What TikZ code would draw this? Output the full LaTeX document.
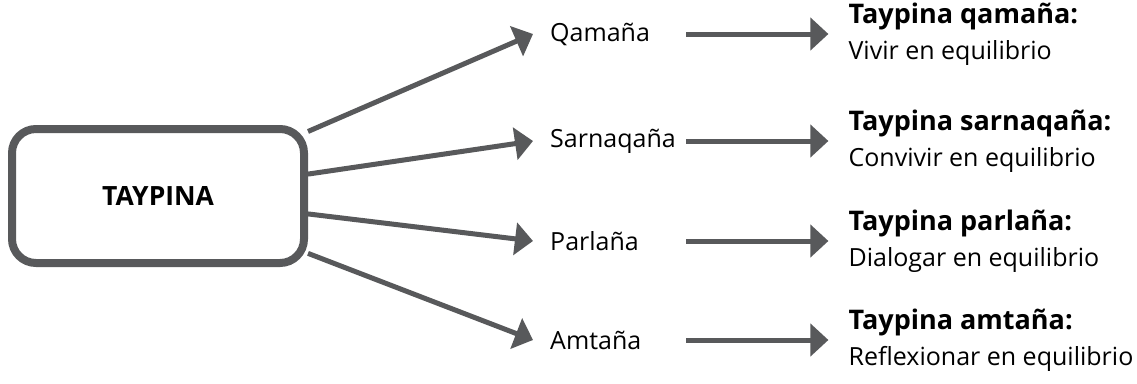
\documentclass[tikz,border=0pt]{standalone}
\usepackage{fontspec}
\setmainfont{Open Sans}
\usetikzlibrary{arrows.meta,positioning}
\definecolor{linegray}{RGB}{88,89,91}
\newcommand{\headline}[1]{{\fontsize{27}{36}\selectfont\bfseries #1}}

\begin{document}
\begin{tikzpicture}[x=1pt,y=-1pt,node distance=142pt,
  main node/.style={draw=linegray,line width=8pt,rounded corners=24pt,minimum width=292pt,minimum height=134pt,font=\fontsize{26.5}{30}\selectfont\bfseries},
  word node/.style={anchor=west,inner xsep=17pt,inner ysep=0pt,text width=119pt,font=\fontsize{25}{30}\selectfont},
  text node/.style={inner xsep=20pt,inner ysep=0pt,align=left,font=\fontsize{25}{36}\selectfont},
  arrow/.style={draw=linegray,fill=linegray,line width=5pt,-{Triangle[length=18pt,width=32pt]}}]
  \useasboundingbox (0,0) rectangle (1137,383);

  \node[main node] (1) at (158,196) {TAYPINA};
  \node[word node] (2) at (533,34) {Qamaña};
  \node[word node] (3) at (533,141) {Sarnaqaña};
  \node[word node] (4) at (533,241) {Parlaña};
  \node[word node] (5) at (533,340) {Amtaña};
  \node[text node] (6) [right=of 2] {\headline{Taypina qamaña:}\\Vivir en equilibrio};
  \node[text node] (7) [right=of 3] {\headline{Taypina sarnaqaña:}\\Convivir en equilibrio};
  \node[text node] (8) [right=of 4] {\headline{Taypina parlaña:}\\Dialogar en equilibrio};
  \node[text node] (9) [right=of 5] {\headline{Taypina amtaña:}\\Reflexionar en equilibrio};

  \path[arrow]
    (1) edge (2.west)
    (1) edge (3.west)
    (1) edge (4.west)
    (1) edge (5.west);

  \path[arrow]
    (2) edge (6)
    (3) edge (7)
    (4) edge (8)
    (5) edge (9);
\end{tikzpicture}
\end{document}
